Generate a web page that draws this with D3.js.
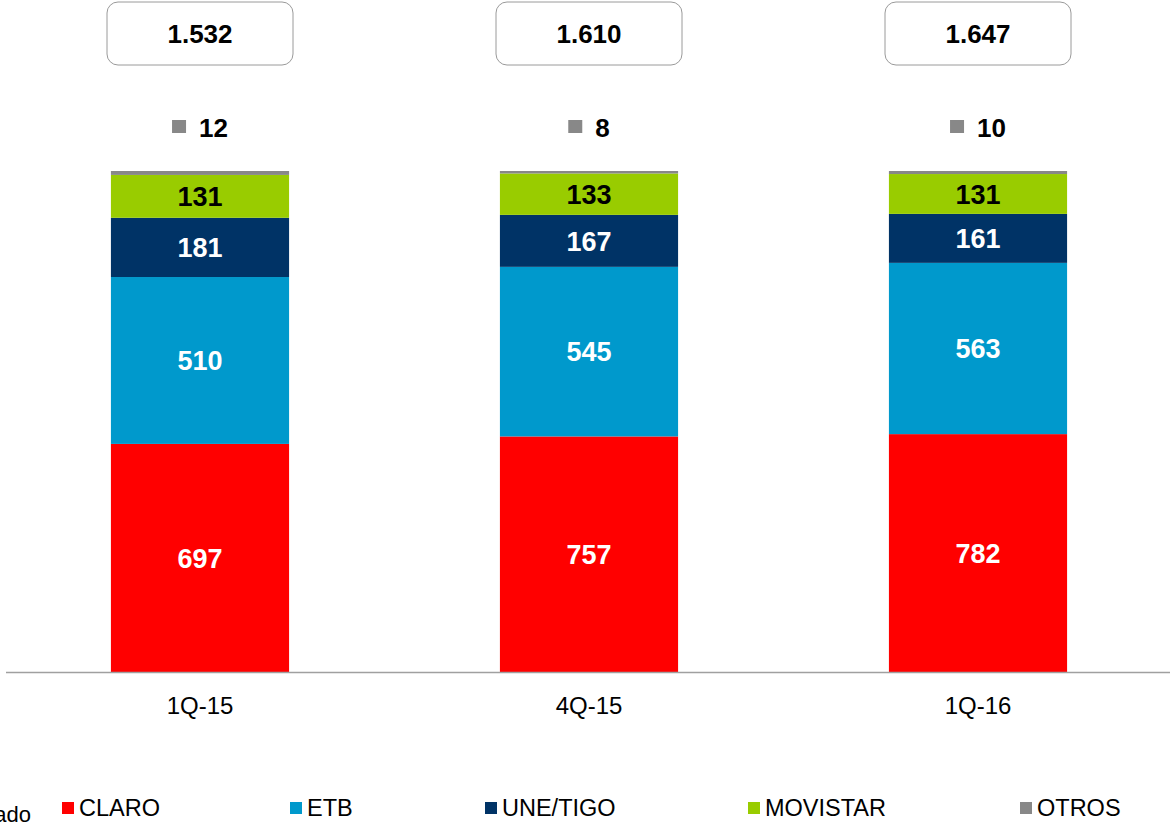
<!DOCTYPE html>
<html>
<head>
<meta charset="utf-8">
<script src="https://cdn.jsdelivr.net/npm/d3@7"></script>
<style>
  body { margin: 0; background: #fff; }
  svg { display: block; font-family: "Liberation Sans", Arial, sans-serif; }
</style>
</head>
<body>
<div id="chart"></div>
<script>
"use strict";

// data
var periods = ["1Q-15", "4Q-15", "1Q-16"];
var operators = ["CLARO", "ETB", "UNE/TIGO", "MOVISTAR", "OTROS"];
var claro = [697, 757, 782];
var etb = [510, 545, 563];
var uneTigo = [181, 167, 161];
var movistar = [131, 133, 131];
var otros = [12, 8, 10];
var totals = ["1.532", "1.610", "1.647"];

var colors = ["#ff0000", "#0099cc", "#003366", "#99cc00", "#888888"];
var labelColors = ["#fff", "#fff", "#fff", "#000", "#000"];

var width = 1170;
var height = 826;

var rows = periods.map(function(p, i) {
  return {
    period: p,
    "CLARO": claro[i],
    "ETB": etb[i],
    "UNE/TIGO": uneTigo[i],
    "MOVISTAR": movistar[i],
    "OTROS": otros[i]
  };
});

var svg = d3.select("#chart")
  .append("svg")
    .attr("width", width)
    .attr("height", height);

// scales
var x = d3.scaleBand()
  .domain(periods)
  .range([5.5, 1172.5])
  .paddingInner(0.542)
  .paddingOuter(0.271);

var y = d3.scaleLinear()
  .domain([0, 1])
  .range([672, 171]);

var color = d3.scaleOrdinal().domain(operators).range(colors);
var textColor = d3.scaleOrdinal().domain(operators).range(labelColors);

// 100% stacked
var series = d3.stack()
  .keys(operators)
  .offset(d3.stackOffsetExpand)(rows);

var layers = svg.selectAll("g.layer")
  .data(series)
  .enter()
  .append("g")
    .attr("class", "layer")
    .attr("fill", function(d) { return color(d.key); });

layers.selectAll("rect")
  .data(function(d) { return d; })
  .enter()
  .append("rect")
    .attr("x", function(d) { return x(d.data.period); })
    .attr("width", x.bandwidth())
    .attr("y", function(d) { return y(d[1]); })
    .attr("height", function(d) { return y(d[0]) - y(d[1]); });

// segment labels (not for OTROS, shown above the bar)
svg.selectAll("g.seglabels")
  .data(series.filter(function(s) { return s.key !== "OTROS"; }))
  .enter()
  .append("g")
    .attr("class", "seglabels")
  .selectAll("text")
  .data(function(s) { return s.map(function(d) { return {key: s.key, d: d}; }); })
  .enter()
  .append("text")
    .attr("x", function(e) { return x(e.d.data.period) + x.bandwidth() / 2; })
    .attr("y", function(e) { return (y(e.d[0]) + y(e.d[1])) / 2; })
    .attr("dy", "0.36em")
    .attr("text-anchor", "middle")
    .style("font-size", "27px")
    .style("font-weight", "bold")
    .style("fill", function(e) { return textColor(e.key); })
    .text(function(e) { return e.d.data[e.key]; });

// axis
var xAxis = svg.append("g")
  .attr("transform", "translate(0,672)")
  .call(d3.axisBottom(x).tickSize(0).tickPadding(25));
xAxis.select(".domain")
  .attr("stroke", "#a0a0a0")
  .attr("stroke-width", 1.5);
xAxis.selectAll("text")
  .style("font-size", "24px")
  .style("font-family", "'Liberation Sans', Arial, sans-serif")
  .style("fill", "#000");

// total boxes
var boxW = 186;
var tot = svg.selectAll("g.total")
  .data(periods)
  .enter()
  .append("g")
    .attr("class", "total");
tot.append("rect")
  .attr("x", function(p) { return x(p) + x.bandwidth() / 2 - boxW / 2; })
  .attr("y", 2)
  .attr("width", boxW)
  .attr("height", 63)
  .attr("rx", 11)
  .attr("fill", "#fff")
  .attr("stroke", "#9a9a9a")
  .attr("stroke-width", 1);
tot.append("text")
  .attr("x", function(p) { return x(p) + x.bandwidth() / 2; })
  .attr("y", 43)
  .attr("text-anchor", "middle")
  .style("font-size", "26px")
  .style("font-weight", "bold")
  .text(function(p, i) { return totals[i]; });

// OTROS labels above bars
var oth = svg.selectAll("g.otros")
  .data(periods)
  .enter()
  .append("g")
    .attr("class", "otros");
oth.each(function(p, i) {
  var g = d3.select(this);
  var cx = x(p) + x.bandwidth() / 2;
  var t = g.append("text")
    .attr("y", 137)
    .style("font-size", "26px")
    .style("font-weight", "bold")
    .text(otros[i]);
  var tw = t.node().getComputedTextLength();
  var total = 14 + 13 + tw;
  var left = cx - total / 2;
  g.append("rect")
    .attr("x", left)
    .attr("y", 120)
    .attr("width", 14)
    .attr("height", 13)
    .attr("fill", color("OTROS"));
  t.attr("x", left + 27);
});

// legend
var legendX = [62, 290, 485, 748, 1020];
var legend = svg.selectAll("g.legend")
  .data(operators)
  .enter()
  .append("g")
    .attr("class", "legend")
    .attr("transform", function(d, i) { return "translate(" + legendX[i] + ",0)"; });
legend.append("rect")
  .attr("x", 0)
  .attr("y", 802)
  .attr("width", 12)
  .attr("height", 12)
  .attr("fill", function(d) { return color(d); });
legend.append("text")
  .attr("x", 17)
  .attr("y", 816)
  .style("font-size", "23.5px")
  .text(function(d) { return d; });

// clipped note on the left edge (cut off in the original too)
svg.append("text")
  .attr("x", 31)
  .attr("y", 822)
  .attr("text-anchor", "end")
  .style("font-size", "22px")
  .text("Mercado");
</script>
</body>
</html>
